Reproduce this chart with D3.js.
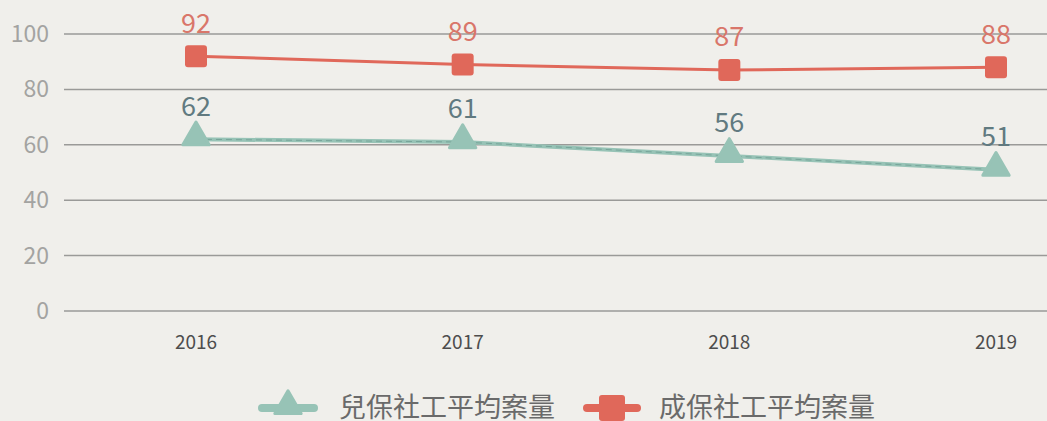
<!DOCTYPE html>
<html>
<head>
<meta charset="utf-8">
<script src="https://cdn.jsdelivr.net/npm/d3@7"></script>
<style>
  html, body { margin: 0; padding: 0; background: #f0efeb; }
  svg { display: block; font-family: "Noto Sans CJK TC", "Noto Sans", sans-serif; }
</style>
</head>
<body>
<div id="mount"></div>
<script>
var years = ['2016', '2017', '2018', '2019'];
var childCase = [62, 61, 56, 51];
var adultCase = [92, 89, 87, 88];
var yTicks = [0, 20, 40, 60, 80, 100];
var seriesNames = ['兒保社工平均案量', '成保社工平均案量'];

var WIDTH = 1047, HEIGHT = 421;
var GREEN = '#97c3b6', RED = '#e0685a';

var svg = d3.select('#mount').append('svg')
  .attr('width', WIDTH)
  .attr('height', HEIGHT);

var x = d3.scalePoint().domain(years).range([196, 996]);
var y = d3.scaleLinear().domain([0, 100]).range([311, 34]);

// grid + y labels
var grid = svg.append('g');
grid.selectAll('line').data(yTicks).enter().append('line')
  .attr('x1', 64).attr('x2', WIDTH)
  .attr('y1', function (d) { return y(d); })
  .attr('y2', function (d) { return y(d); })
  .attr('stroke', '#9a9a98').attr('stroke-width', 1.5);
grid.selectAll('text').data(yTicks).enter().append('text')
  .attr('x', 49).attr('y', function (d) { return y(d); })
  .attr('dy', '0.35em').attr('text-anchor', 'end')
  .attr('font-size', 23).attr('fill', '#a3a3a1')
  .text(function (d) { return d; });

// x labels
svg.append('g').selectAll('text').data(years).enter().append('text')
  .attr('x', function (d) { return x(d); })
  .attr('y', 342).attr('dy', '0.35em').attr('text-anchor', 'middle')
  .attr('font-size', 19).attr('fill', '#4d4d4d')
  .text(function (d) { return d; });

var line = d3.line()
  .x(function (d, i) { return x(years[i]); })
  .y(function (d) { return y(d); });

var tri = d3.symbol().type(d3.symbolTriangle).size(300);

// green series
svg.append('path').datum(childCase).attr('d', line)
  .attr('fill', 'none').attr('stroke', GREEN).attr('stroke-width', 4);
svg.append('path').datum(childCase).attr('d', line)
  .attr('fill', 'none').attr('stroke', '#6f9c92').attr('stroke-width', 0.8)
  .attr('stroke-dasharray', '6,4');
svg.append('g').selectAll('path').data(childCase).enter().append('path')
  .attr('d', tri)
  .attr('transform', function (d, i) { return 'translate(' + x(years[i]) + ',' + (y(d) - 2) + ')'; })
  .attr('fill', GREEN).attr('stroke', GREEN).attr('stroke-width', 3)
  .attr('stroke-linejoin', 'round');
svg.append('g').selectAll('text').data(childCase).enter().append('text')
  .attr('x', function (d, i) { return x(years[i]); })
  .attr('y', function (d) { return y(d) - 33; })
  .attr('dy', '0.35em').attr('text-anchor', 'middle')
  .attr('font-size', 27).attr('fill', '#617a80')
  .text(function (d) { return d; });

// red series
svg.append('path').datum(adultCase).attr('d', line)
  .attr('fill', 'none').attr('stroke', RED).attr('stroke-width', 3);
svg.append('g').selectAll('rect').data(adultCase).enter().append('rect')
  .attr('x', function (d, i) { return x(years[i]) - 11; })
  .attr('y', function (d) { return y(d) - 11; })
  .attr('width', 22).attr('height', 22).attr('rx', 3)
  .attr('fill', RED);
svg.append('g').selectAll('text').data(adultCase).enter().append('text')
  .attr('x', function (d, i) { return x(years[i]); })
  .attr('y', function (d) { return y(d) - 33; })
  .attr('dy', '0.35em').attr('text-anchor', 'middle')
  .attr('font-size', 27).attr('fill', '#d9766a')
  .text(function (d) { return d; });

// legend
var legend = svg.append('g');
legend.append('line').attr('x1', 262).attr('x2', 314).attr('y1', 408).attr('y2', 408)
  .attr('stroke', GREEN).attr('stroke-width', 8).attr('stroke-linecap', 'round');
legend.append('path').attr('d', tri)
  .attr('transform', 'translate(288,406)')
  .attr('fill', GREEN).attr('stroke', GREEN).attr('stroke-width', 3)
  .attr('stroke-linejoin', 'round');
legend.append('text').attr('x', 339).attr('y', 408).attr('dy', '0.35em')
  .attr('font-size', 27).attr('fill', '#6a6a6a').text(seriesNames[0]);

legend.append('line').attr('x1', 587).attr('x2', 637).attr('y1', 408).attr('y2', 408)
  .attr('stroke', RED).attr('stroke-width', 8).attr('stroke-linecap', 'round');
legend.append('rect').attr('x', 599).attr('y', 395).attr('width', 26).attr('height', 26).attr('rx', 3)
  .attr('fill', RED);
legend.append('text').attr('x', 659).attr('y', 408).attr('dy', '0.35em')
  .attr('font-size', 27).attr('fill', '#6a6a6a').text(seriesNames[1]);
</script>
</body>
</html>
